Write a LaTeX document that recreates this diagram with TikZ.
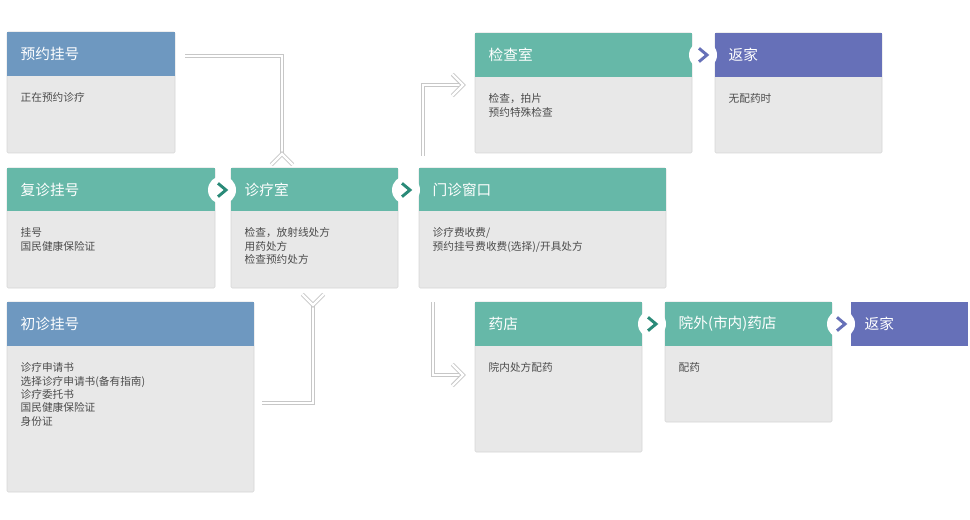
\documentclass[tikz,border=0pt]{standalone}
\usepackage{fontspec}
\setmainfont{Noto Sans CJK SC}
\usetikzlibrary{positioning,arrows.meta}
\definecolor{hblue}{HTML}{6E98C0}
\definecolor{hgreen}{HTML}{66B8A8}
\definecolor{hpurple}{HTML}{6670B8}
\definecolor{cbody}{HTML}{E8E8E8}
\definecolor{cline}{HTML}{D6D6D6}
\definecolor{cteal}{HTML}{2A8A78}
\tikzset{
  body/.style={fill=cbody,draw=cline,rounded corners=1pt},
  head/.style={anchor=west,text=white,font=\fontsize{11}{13}\selectfont},
  txt/.style={anchor=north west,align=left,text=black!70,font=\fontsize{8}{10}\selectfont},
  flow/.style={draw=black!22,double=white,line width=0.7pt,double distance=1.6pt},
  hop/.style={circle,fill=white,minimum size=21pt,inner sep=0pt},
}
% card: name, x1, y1, x2, y2, head bottom, colour, title, text
\newcommand{\card}[9]{
  \fill[body] (#2,#3) rectangle (#4,#5);
  \fill[#7] (#2,#3) rectangle (#4,#6);
  \node[head] (#1) at (#2+9,{(#3+#6)/2}) {#8};
  \node[txt] (#1-t) at (#2+9,#6+12) {#9};
}
\newcommand{\hopmark}[4]{
  \node[hop] (#1) at (#2,#3) {};
  \draw[#4,line width=2.2pt] ([xshift=-3pt,yshift=5pt]#1.center) -- ([xshift=3pt]#1.center) -- ([xshift=-3pt,yshift=-5pt]#1.center);
}
\begin{document}
\begin{tikzpicture}[x=0.75pt,y=-0.75pt]
  \useasboundingbox (0,0) rectangle (970,520);
  \card{yy}{7}{32}{175}{153}{76}{hblue}{预约挂号}{正在预约诊疗}
  \card{fz}{7}{168}{215}{288}{211}{hgreen}{复诊挂号}{挂号\\国民健康保险证}
  \card{zl}{231}{168}{398}{288}{211}{hgreen}{诊疗室}{检查，放射线处方\\用药处方\\检查预约处方}
  \card{mz}{419}{168}{666}{288}{211}{hgreen}{门诊窗口}{诊疗费收费/\\预约挂号费收费(选择)/开具处方}
  \card{cz}{7}{302}{254}{492}{346}{hblue}{初诊挂号}{诊疗申请书\\选择诊疗申请书(备有指南)\\诊疗委托书\\国民健康保险证\\身份证}
  \card{jc}{475}{33}{692}{153}{77}{hgreen}{检查室}{检查，拍片\\预约特殊检查}
  \card{fj}{715}{33}{882}{153}{77}{hpurple}{返家}{无配药时}
  \card{yd}{475}{302}{642}{452}{346}{hgreen}{药店}{院内处方配药}
  \card{yw}{665}{302}{832}{422}{346}{hgreen}{院外(市内)药店}{配药}
  \fill[hpurple] (851,302) rectangle (968,346);
  \node[head] (fj2) at (860,324) {返家};
  \hopmark{h1}{222}{190}{cteal}
  \hopmark{h2}{406}{190}{cteal}
  \hopmark{h3}{703}{55}{hpurple}
  \hopmark{h4}{652}{324}{cteal}
  \hopmark{h5}{841}{324}{hpurple}
  % hollow flow arrows
  \coordinate (a1) at (185,56);  \coordinate (a1e) at (282,154);
  \coordinate (a2) at (423,156); \coordinate (a2e) at (463,85);
  \coordinate (a3) at (262,403); \coordinate (a3e) at (313,305);
  \coordinate (a4) at (433,302); \coordinate (a4e) at (463,375);
  \draw[flow] (a1) -| (a1e);
  \draw[flow] (a2) |- (a2e);
  \draw[flow] (a3) -| (a3e);
  \draw[flow] (a4) |- (a4e);
  \draw[flow] ([xshift=-8,yshift=-8]a1e) -- (a1e) -- ([xshift=8,yshift=-8]a1e);
  \draw[flow] ([xshift=-8,yshift=-8]a2e) -- (a2e) -- ([xshift=-8,yshift=8]a2e);
  \draw[flow] ([xshift=-8,yshift=8]a3e) -- (a3e) -- ([xshift=8,yshift=8]a3e);
  \draw[flow] ([xshift=-8,yshift=-8]a4e) -- (a4e) -- ([xshift=-8,yshift=8]a4e);
\end{tikzpicture}
\end{document}
